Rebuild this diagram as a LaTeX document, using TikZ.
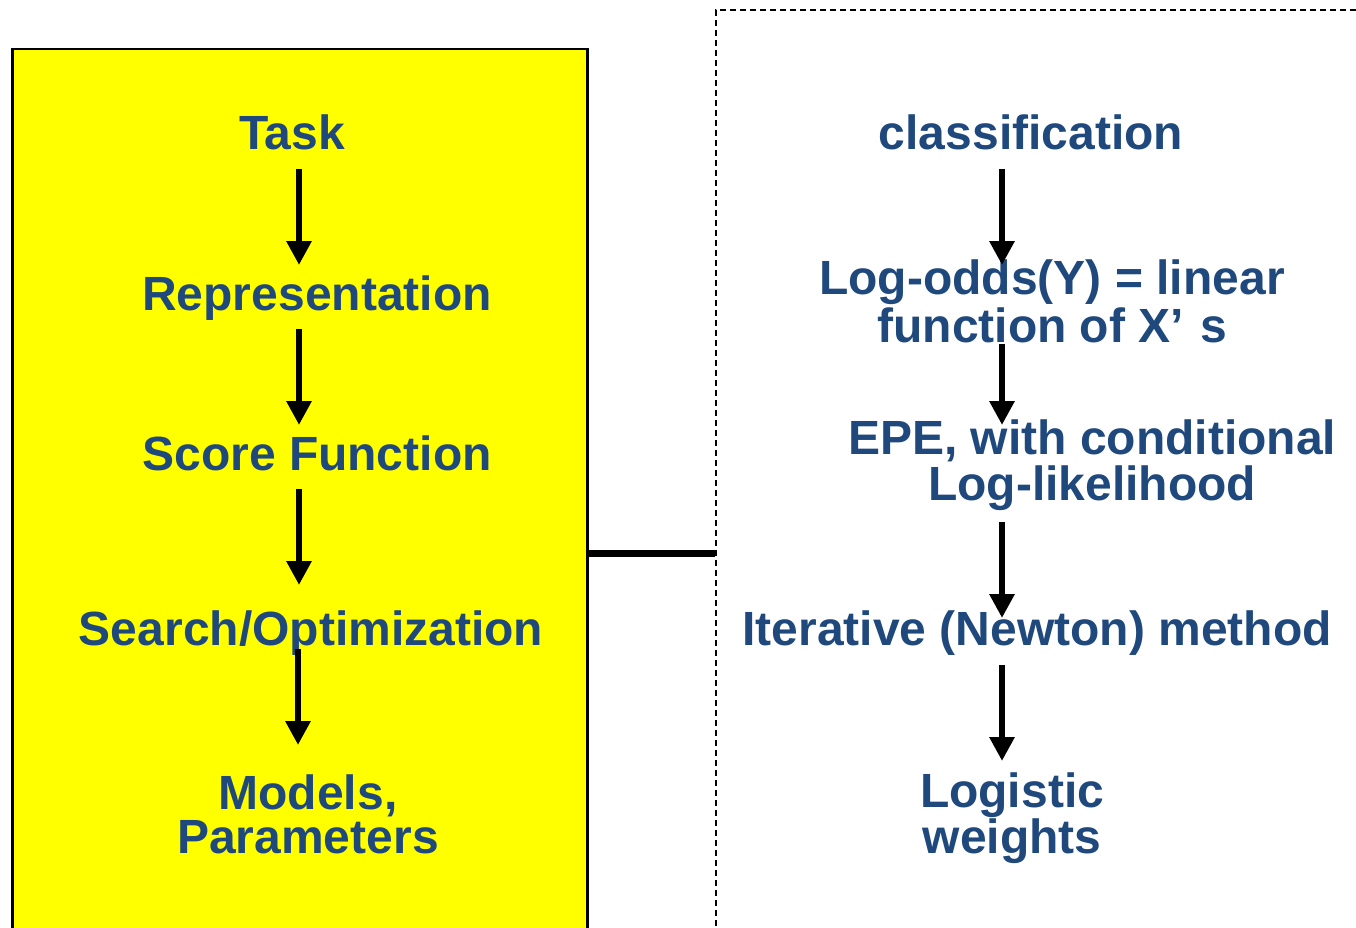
\documentclass[tikz,border=0pt]{standalone}
\usepackage{fontspec}
\setmainfont{Liberation Sans}
\usetikzlibrary{arrows.meta}
\definecolor{txtblue}{HTML}{1F497D}
\definecolor{panelyellow}{RGB}{255,255,0}
\tikzset{
  lbl/.style={anchor=base, align=center, text=txtblue, inner sep=0pt,
    font=\bfseries\fontsize{48}{46}\selectfont},
  flow/.style={line width=6.5pt, -{Triangle[width=24pt,length=24pt]}},
}
\begin{document}
\begin{tikzpicture}[x=1pt,y=-1pt]
\useasboundingbox (0,0) rectangle (1356,928);
\clip (0,0) rectangle (1356,928);
% left yellow panel
\node[draw=black, line width=2.5pt, fill=panelyellow, minimum width=575.3pt, minimum height=900pt, anchor=north west, inner sep=0pt] (panel) at (11,47.7) {};
% right dashed panel
\node[draw=black, line width=1.8pt, dash pattern=on 6pt off 4pt, minimum width=700pt, minimum height=960pt, anchor=north west, inner sep=0pt] (dpanel) at (715,9) {};
% connector
\coordinate (cL) at (586.3,553);
\coordinate (cR) at (715,553);
\draw[line width=7pt] (cL) -- (cR);

% left texts
\node[lbl] (task) at (292,150) {Task};
\node[lbl] (rep) at (317,310) {Representation};
\node[lbl] (score) at (317,470) {Score Function};
\node[lbl] (search) at (311,645) {Search/Optimization};
\node[lbl, font=\bfseries\fontsize{48}{44}\selectfont] (models) at (308,853) {Models,\\Parameters};

% right texts
\node[lbl] (cls) at (1031,150) {classification};
\node[lbl, font=\bfseries\fontsize{48}{48}\selectfont] (logodds) at (1052,342) {Log-odds(Y) = linear\\function of X’\,\,s};
\node[lbl] (epe) at (1092,500) {EPE, with conditional\\Log-likelihood};
\node[lbl] (iter) at (1037,645) {Iterative (Newton) method};
\node[lbl, font=\bfseries\fontsize{48}{44}\selectfont] (logw) at (1012,853) {Logistic\\weights};

% arrow coordinates left
\coordinate (l1s) at (299,169); \coordinate (l1e) at (299,265);
\coordinate (l2s) at (299,329); \coordinate (l2e) at (299,425);
\coordinate (l3s) at (299,489); \coordinate (l3e) at (299,585);
\coordinate (l4s) at (298,649); \coordinate (l4e) at (298,745);
\draw[flow] (l1s) -- (l1e);
\draw[flow] (l2s) -- (l2e);
\draw[flow] (l3s) -- (l3e);
\draw[flow] (l4s) -- (l4e);

% arrow coordinates right
\coordinate (r1s) at (1002,169); \coordinate (r1e) at (1002,265);
\coordinate (r2s) at (1002,344); \coordinate (r2e) at (1002,425);
\coordinate (r3s) at (1002,522); \coordinate (r3e) at (1002,618);
\coordinate (r4s) at (1002,665); \coordinate (r4e) at (1002,761);
\draw[flow] (r1s) -- (r1e);
\draw[flow] (r2s) -- (r2e);
\draw[flow] (r3s) -- (r3e);
\draw[flow] (r4s) -- (r4e);
\end{tikzpicture}
\end{document}
